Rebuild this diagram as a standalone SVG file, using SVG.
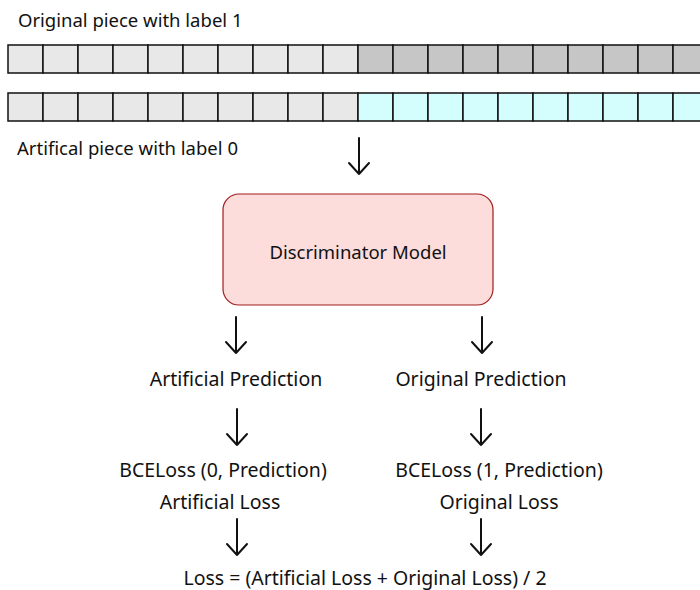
<svg xmlns="http://www.w3.org/2000/svg" width="700" height="590" viewBox="0 0 700 590">
  <style>
    text { font-family: "Noto Sans", "Liberation Sans", sans-serif; font-size: 19.5px; fill: #111; }
    .head { font-size: 18.5px; }
    .mid { text-anchor: middle; }
    .cell { stroke: #111; stroke-width: 1.5; }
    .light { fill: #e8e8e8; }
    .dark { fill: #c6c6c6; }
    .cyan { fill: #d4fefd; }
    .arrow { fill: none; stroke: #111; stroke-width: 2; stroke-linecap: round; stroke-linejoin: round; }
  </style>
  <defs>
    <g id="cellL"><rect class="cell light" width="35" height="28"/></g>
    <g id="cellD"><rect class="cell dark" width="35" height="28"/></g>
    <g id="cellC"><rect class="cell cyan" width="35" height="28"/></g>
    <!-- down arrow drawn from its tip at (0,0) -->
    <g id="down"><path class="arrow" d="M0,-36 V0 M-10,-11 L0,0 L10,-11"/></g>
  </defs>
  <rect width="700" height="590" fill="#fff"/>

  <g id="original-piece">
    <text class="head" x="18" y="27">Original piece with label 1</text>
    <use href="#cellL" x="8" y="45"/><use href="#cellL" x="43" y="45"/><use href="#cellL" x="78" y="45"/>
    <use href="#cellL" x="113" y="45"/><use href="#cellL" x="148" y="45"/><use href="#cellL" x="183" y="45"/>
    <use href="#cellL" x="218" y="45"/><use href="#cellL" x="253" y="45"/><use href="#cellL" x="288" y="45"/>
    <use href="#cellL" x="323" y="45"/>
    <use href="#cellD" x="358" y="45"/><use href="#cellD" x="393" y="45"/><use href="#cellD" x="428" y="45"/>
    <use href="#cellD" x="463" y="45"/><use href="#cellD" x="498" y="45"/><use href="#cellD" x="533" y="45"/>
    <use href="#cellD" x="568" y="45"/><use href="#cellD" x="603" y="45"/><use href="#cellD" x="638" y="45"/>
    <use href="#cellD" x="673" y="45"/>
  </g>

  <g id="artificial-piece">
    <use href="#cellL" x="8" y="93"/><use href="#cellL" x="43" y="93"/><use href="#cellL" x="78" y="93"/>
    <use href="#cellL" x="113" y="93"/><use href="#cellL" x="148" y="93"/><use href="#cellL" x="183" y="93"/>
    <use href="#cellL" x="218" y="93"/><use href="#cellL" x="253" y="93"/><use href="#cellL" x="288" y="93"/>
    <use href="#cellL" x="323" y="93"/>
    <use href="#cellC" x="358" y="93"/><use href="#cellC" x="393" y="93"/><use href="#cellC" x="428" y="93"/>
    <use href="#cellC" x="463" y="93"/><use href="#cellC" x="498" y="93"/><use href="#cellC" x="533" y="93"/>
    <use href="#cellC" x="568" y="93"/><use href="#cellC" x="603" y="93"/><use href="#cellC" x="638" y="93"/>
    <use href="#cellC" x="673" y="93"/>
    <text class="head" x="17" y="155">Artifical piece with label 0</text>
  </g>

  <g id="discriminator">
    <rect x="223" y="194" width="270" height="111" rx="16" fill="#fddcdc" stroke="#a21c1c" stroke-width="1.2"/>
    <text class="mid" x="358" y="259" style="font-size:18.5px">Discriminator Model</text>
  </g>

  <g id="artificial-prediction"><text class="mid" x="236" y="386">Artificial Prediction</text></g>
  <g id="original-prediction"><text class="mid" x="481" y="386">Original Prediction</text></g>

  <g id="artificial-loss">
    <text class="mid" x="223" y="477">BCELoss (0, Prediction)</text>
    <text class="mid" x="220" y="509">Artificial Loss</text>
  </g>
  <g id="original-loss">
    <text class="mid" x="499" y="477">BCELoss (1, Prediction)</text>
    <text class="mid" x="499" y="509">Original Loss</text>
  </g>

  <g id="total-loss"><text class="mid" x="365" y="585">Loss = (Artificial Loss + Original Loss) / 2</text></g>

  <g id="connectors">
    <use href="#down" x="359" y="174"/>
    <use href="#down" x="236" y="353"/>
    <use href="#down" x="482" y="353"/>
    <use href="#down" x="237" y="445"/>
    <use href="#down" x="481" y="445"/>
    <use href="#down" x="237" y="555"/>
    <use href="#down" x="481" y="555"/>
  </g>
</svg>
